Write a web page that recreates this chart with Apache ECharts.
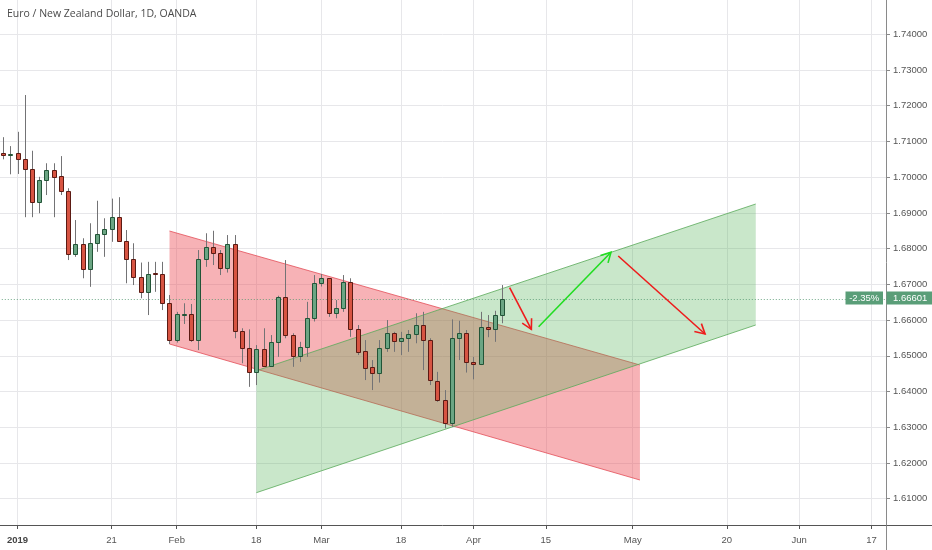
<!DOCTYPE html>
<html><head><meta charset="utf-8">
<script src="https://cdn.jsdelivr.net/npm/echarts@6/dist/echarts.min.js"></script>
<style>html,body{margin:0;padding:0;background:#fff}#c{width:932px;height:550px}</style>
</head><body><div id="c"></div>
<script>
// ---------------- data ----------------
const chartTitle = 'Euro / New Zealand Dollar, 1D, OANDA';
const dates = ['2018-12-28','2018-12-31','2019-01-02','2019-01-03','2019-01-04','2019-01-07','2019-01-08','2019-01-09','2019-01-10','2019-01-11',
'2019-01-14','2019-01-15','2019-01-16','2019-01-17','2019-01-18','2019-01-21','2019-01-22','2019-01-23','2019-01-24','2019-01-25',
'2019-01-28','2019-01-29','2019-01-30','2019-01-31','2019-02-01','2019-02-04','2019-02-05','2019-02-06','2019-02-07','2019-02-08',
'2019-02-11','2019-02-12','2019-02-13','2019-02-14','2019-02-15','2019-02-18','2019-02-19','2019-02-20','2019-02-21','2019-02-22',
'2019-02-25','2019-02-26','2019-02-27','2019-02-28','2019-03-01','2019-03-04','2019-03-05','2019-03-06','2019-03-07','2019-03-08',
'2019-03-11','2019-03-12','2019-03-13','2019-03-14','2019-03-15','2019-03-18','2019-03-19','2019-03-20','2019-03-21','2019-03-22',
'2019-03-25','2019-03-26','2019-03-27','2019-03-28','2019-03-29','2019-04-01','2019-04-02','2019-04-03','2019-04-04','2019-04-05'];
const opens = [1.7068,1.7061,1.7067,1.7051,1.7023,1.6930,1.6992,1.7020,1.7003,1.6961,
1.6785,1.6813,1.6742,1.6815,1.6840,1.6854,1.6889,1.6821,1.6771,1.6720,
1.6678,1.6731,1.6729,1.6647,1.6544,1.6614,1.6616,1.6544,1.6770,1.6804,
1.6789,1.6747,1.6813,1.6570,1.6521,1.6455,1.6518,1.6472,1.6538,1.6665,
1.6558,1.6499,1.6525,1.6605,1.6705,1.6717,1.6619,1.6633,1.6707,1.6574,
1.6513,1.6468,1.6453,1.6521,1.6563,1.6542,1.6549,1.6561,1.6586,1.6544,
1.6430,1.6376,1.6311,1.6549,1.6565,1.6483,1.6476,1.6581,1.6576,1.6614];
const closes = [1.7062,1.7066,1.7050,1.7022,1.6930,1.6992,1.7020,1.7001,1.6961,1.6785,
1.6813,1.6742,1.6817,1.6840,1.6854,1.6889,1.6821,1.6771,1.6720,1.6678,
1.6729,1.6728,1.6649,1.6544,1.6616,1.6617,1.6544,1.6770,1.6804,1.6787,
1.6747,1.6813,1.6570,1.6521,1.6455,1.6518,1.6472,1.6538,1.6665,1.6558,
1.6499,1.6525,1.6605,1.6705,1.6717,1.6619,1.6633,1.6707,1.6574,1.6511,
1.6465,1.6453,1.6521,1.6563,1.6542,1.6549,1.6561,1.6586,1.6544,1.6432,
1.6376,1.6311,1.6549,1.6565,1.6483,1.6476,1.6581,1.6576,1.6614,1.66601];
const lows = [1.7050,1.7008,1.7009,1.6888,1.6888,1.6899,1.6950,1.6888,1.6950,1.6768,
1.6777,1.6717,1.6693,1.6791,1.6777,1.6819,1.6819,1.6703,1.6698,1.6661,
1.6614,1.6679,1.6628,1.6533,1.6537,1.6589,1.6539,1.6516,1.6749,1.6754,
1.6726,1.6733,1.6549,1.6479,1.6413,1.6418,1.6469,1.6469,1.6497,1.6549,
1.6469,1.6483,1.6497,1.6596,1.6694,1.6609,1.6605,1.6623,1.6553,1.6502,
1.6432,1.6404,1.6425,1.6511,1.6511,1.6502,1.6511,1.6535,1.6460,1.6418,
1.6371,1.6297,1.6301,1.6488,1.6453,1.6434,1.6474,1.6552,1.6539,1.6591];
const highs = [1.7112,1.7087,1.7127,1.7230,1.7074,1.7001,1.7039,1.7039,1.7059,1.6969,
1.6880,1.6829,1.6871,1.6934,1.6885,1.6940,1.6944,1.6852,1.6815,1.6761,
1.6763,1.6763,1.6763,1.6670,1.6623,1.6647,1.6645,1.6796,1.6843,1.6850,
1.6796,1.6838,1.6838,1.6577,1.6574,1.6530,1.6577,1.6558,1.6668,1.6768,
1.6563,1.6539,1.6651,1.6726,1.6729,1.6717,1.6656,1.6726,1.6717,1.6586,
1.6544,1.6488,1.6544,1.6600,1.6567,1.6567,1.6572,1.6619,1.6623,1.6549,
1.6455,1.6404,1.6602,1.6598,1.6572,1.6497,1.6623,1.6614,1.6626,1.6698];
const axisStart = '2018-12-27';
const axisEnd = '2019-06-19';
const closedDays = ['2019-01-01'];
const tickLabels = {'2019-01-02':'2019','2019-01-21':'21','2019-02-01':'Feb','2019-02-18':'18','2019-03-01':'Mar','2019-03-18':'18',
  '2019-04-01':'Apr','2019-04-15':'15','2019-05-01':'May','2019-05-20':'20','2019-06-03':'Jun','2019-06-17':'17'};
// parallel channels: [date, price] at the two ends of each boundary line
const redTop = [['2019-01-31',1.68493],['2019-05-02',1.64742]];
const redBottom = [['2019-01-31',1.65330],['2019-05-02',1.61522]];
const greenTop = [['2019-02-18',1.64582],['2019-05-24',1.69249]];
const greenBottom = [['2019-02-18',1.61167],['2019-05-24',1.65862]];
// arrows: [fromDate, fromPrice, toDate, toPrice]
const arrows = [['2019-04-08',1.66906,'2019-04-11',1.65741],
                ['2019-04-12',1.65814,'2019-04-26',1.67897],
                ['2019-04-29',1.67793,'2019-05-15',1.65610]];
const lastPrice = 1.66601;
const changeText = '-2.35%';

// ---------------- build ----------------
const categories = [];
for (let t = Date.parse(axisStart + 'T00:00:00Z'); t <= Date.parse(axisEnd + 'T00:00:00Z'); t += 86400000) {
  const d = new Date(t); const wd = d.getUTCDay();
  if (wd === 0 || wd === 6) continue;
  const s = d.toISOString().slice(0, 10);
  if (closedDays.indexOf(s) >= 0) continue;
  categories.push(s);
}
const idx = d => categories.indexOf(d);
const showTick = (i, v) => Object.prototype.hasOwnProperty.call(tickLabels, v);

const UP_FILL = '#6ba583', UP_LINE = '#225437', DN_FILL = '#d75442', DN_LINE = '#5b1a13', WICK = '#737375';
const FONT = 'Liberation Sans, Arial, sans-serif';
const LABEL_SIZE = 9.5;
const arrowColors = ['#ee1c1c', '#22dd22', '#ee1c1c'];
const GRID_COLOR = '#e7e7ea';

function channelSeries(top, bottom, fill, stroke) {
  return {
    type: 'custom', silent: true,
    data: [[0, lastPrice]],
    renderItem(params, api) {
      const t0 = api.coord([idx(top[0][0]), top[0][1]]), t1 = api.coord([idx(top[1][0]), top[1][1]]);
      const b0 = api.coord([idx(bottom[0][0]), bottom[0][1]]), b1 = api.coord([idx(bottom[1][0]), bottom[1][1]]);
      return { type: 'group', children: [
        { type: 'polygon', shape: { points: [t0, t1, b1, b0] }, style: { fill: fill } },
        { type: 'line', shape: { x1: t0[0], y1: t0[1], x2: t1[0], y2: t1[1] }, style: { stroke: stroke, lineWidth: 1 } },
        { type: 'line', shape: { x1: b0[0], y1: b0[1], x2: b1[0], y2: b1[1] }, style: { stroke: stroke, lineWidth: 1 } }
      ]};
    }
  };
}

const chart = echarts.init(document.getElementById('c'), null, { renderer: 'canvas' });
chart.setOption({
  animation: false,
  backgroundColor: '#ffffff',
  textStyle: { fontFamily: FONT },
  title: { text: chartTitle, left: 7, top: 9, padding: 0, textStyle: { fontSize: 10.5, fontWeight: 'normal', color: '#4a4a4a', fontFamily: 'Open Sans' } },
  grid: { left: -4.2, right: 46, top: 0, bottom: 25, outerBoundsMode: 'none', containLabel: false },
  xAxis: {
    type: 'category', data: categories, boundaryGap: false,
    axisLine: { lineStyle: { color: '#555', width: 1 } },
    axisTick: { interval: showTick, length: 4, lineStyle: { color: '#555' } },
    axisLabel: { interval: showTick, color: '#555', fontSize: LABEL_SIZE, margin: 10, fontFamily: FONT,
      formatter: v => v === '2019-01-02' ? '{b|' + tickLabels[v] + '}' : (tickLabels[v] || ''),
      rich: { b: { fontWeight: 'bold', color: '#444', fontSize: LABEL_SIZE, fontFamily: FONT } } },
    splitLine: { show: true, interval: showTick, lineStyle: { color: GRID_COLOR } }
  },
  yAxis: {
    type: 'value', position: 'right', scale: true,
    min: 1.602626, max: 1.749603, minInterval: 0.01, maxInterval: 0.01, splitNumber: 14,
    axisLine: { show: true, lineStyle: { color: '#8a8a8a' } },
    axisTick: { show: true, length: 4, lineStyle: { color: '#8a8a8a' } },
    axisLabel: { color: '#555', fontSize: LABEL_SIZE, margin: 7, fontFamily: FONT, showMinLabel: false, showMaxLabel: false,
      formatter: v => v.toFixed(5) },
    splitLine: { show: true, showMinLine: false, showMaxLine: false, lineStyle: { color: GRID_COLOR } }
  },
  series: [
    channelSeries(redTop, redBottom, 'rgba(236,72,82,0.42)', 'rgba(225,70,80,0.75)'),
    channelSeries(greenTop, greenBottom, 'rgba(76,175,80,0.30)', 'rgba(90,170,90,0.8)'),
    {
      type: 'custom', silent: true,
      data: [[0, lastPrice]],
      renderItem(params, api) {
        const cs = params.coordSys;
        const y = Math.round(api.coord([0, lastPrice])[1]) + 0.5;
        const right = cs.x + cs.width;
        return { type: 'group', children: [
          { type: 'line', shape: { x1: cs.x, y1: y, x2: right, y2: y }, style: { stroke: 'rgba(80,150,110,0.8)', lineWidth: 1, lineDash: [1, 2] } },
          { type: 'rect', shape: { x: right - 40.5, y: y - 8, width: 37.5, height: 13 }, style: { fill: '#5a9e78' } },
          { type: 'text', style: { x: right - 21.75, y: y - 1.5, text: changeText, fill: '#fff', font: LABEL_SIZE + 'px ' + FONT, align: 'center', verticalAlign: 'middle' } },
          { type: 'rect', shape: { x: right + 0.5, y: y - 8, width: 60, height: 13 }, style: { fill: '#5a9e78' } },
          { type: 'text', style: { x: right + 7, y: y - 1.5, text: lastPrice.toFixed(5), fill: '#fff', font: LABEL_SIZE + 'px ' + FONT, align: 'left', verticalAlign: 'middle' } }
        ]};
      }
    },
    {
      type: 'custom', name: 'EURNZD',
      data: dates.map((d, i) => [idx(d), opens[i], closes[i], lows[i], highs[i]]),
      encode: { x: 0, y: [1, 2, 3, 4] },
      renderItem(params, api) {
        const xi = api.value(0);
        const o = api.value(1), c = api.value(2), l = api.value(3), h = api.value(4);
        const po = api.coord([xi, o]), pc = api.coord([xi, c]), pl = api.coord([xi, l]), ph = api.coord([xi, h]);
        const up = c >= o;
        const x = Math.round(po[0]);
        const top = Math.round(Math.min(po[1], pc[1])) + 0.5, bot = Math.round(Math.max(po[1], pc[1])) + 0.5;
        return { type: 'group', children: [
          { type: 'line', shape: { x1: x + 0.5, y1: ph[1], x2: x + 0.5, y2: pl[1] }, style: { stroke: WICK, lineWidth: 1 } },
          { type: 'rect', shape: { x: x - 1.5, y: top, width: 4, height: Math.max(bot - top, 1) },
            style: { fill: up ? UP_FILL : DN_FILL, stroke: up ? UP_LINE : DN_LINE, lineWidth: 1 } }
        ]};
      }
    },
    {
      type: 'custom', silent: true,
      data: arrows.map((a, i) => [idx(a[0]), a[1]]),
      renderItem(params, api) {
        const a = arrows[params.dataIndex];
        const p1 = api.coord([idx(a[0]), a[1]]), p2 = api.coord([idx(a[2]), a[3]]);
        const ang = Math.atan2(p2[1] - p1[1], p2[0] - p1[0]);
        const L = 11, spread = 0.5;
        const l1 = [p2[0] - L * Math.cos(ang - spread), p2[1] - L * Math.sin(ang - spread)];
        const l2 = [p2[0] - L * Math.cos(ang + spread), p2[1] - L * Math.sin(ang + spread)];
        const col = arrowColors[params.dataIndex];
        return { type: 'group', children: [
          { type: 'line', shape: { x1: p1[0], y1: p1[1], x2: p2[0], y2: p2[1] }, style: { stroke: col, lineWidth: 1.6 } },
          { type: 'polyline', shape: { points: [l1, p2, l2] }, style: { stroke: col, lineWidth: 1.6, fill: null } }
        ]};
      }
    }
  ],
  graphic: [
    { type: 'line', shape: { x1: 886, y1: 525.5, x2: 932, y2: 525.5 }, style: { stroke: '#555', lineWidth: 1 }, silent: true },
    { type: 'line', shape: { x1: 886.5, y1: 525, x2: 886.5, y2: 550 }, style: { stroke: '#8a8a8a', lineWidth: 1 }, silent: true }
  ]
});
</script></body></html>
